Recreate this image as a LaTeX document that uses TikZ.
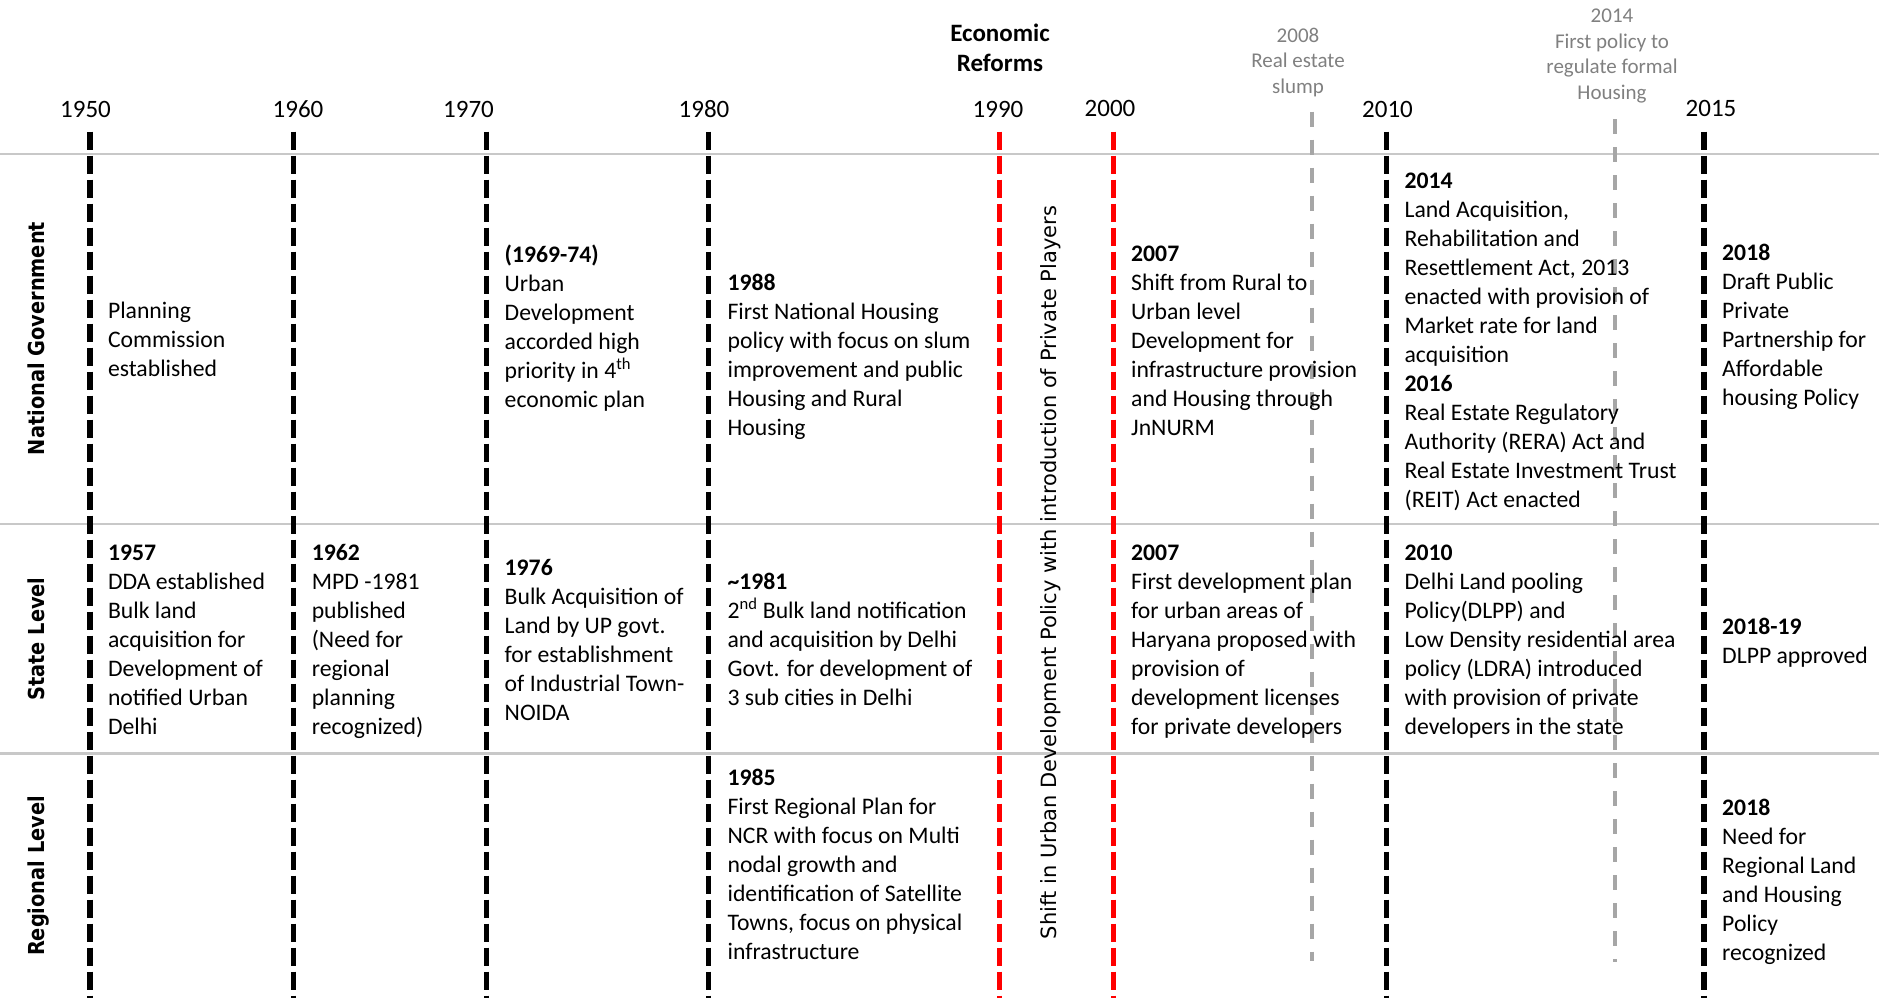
\documentclass[tikz,border=0pt]{standalone}
\usepackage{fontspec}
\usepackage{graphicx}
\setmainfont{Carlito}
\newfontfamily\rowfont{DejaVu Sans}
\definecolor{rulegray}{RGB}{200,200,200}
\definecolor{markgray}{RGB}{166,166,166}
\definecolor{notegray}{RGB}{128,128,128}
\definecolor{reformred}{RGB}{255,0,0}
% fixed height for the first line of every text block
\newcommand\evstrut{\rule{0pt}{20pt}}
\newcommand\notestrut{\rule{0pt}{18pt}}

\begin{document}
\begin{tikzpicture}[x=1pt,y=-1pt,
  sepline/.style={draw=rulegray,line width=2.5pt},
  decade/.style={draw=black,line width=5.5pt,dash pattern=on 18pt off 6pt},
  reform/.style={draw=reformred,line width=5.5pt,dash pattern=on 18pt off 6pt},
  marker/.style={draw=markgray,line width=4pt,dash pattern=on 15pt off 13pt},
  yearlabel/.style={anchor=base,inner sep=0pt,font=\fontsize{25}{30}\selectfont},
  reformlabel/.style={anchor=north,inner sep=0pt,align=center,font=\bfseries\fontsize{25}{30}\selectfont},
  notelabel/.style={anchor=north,inner sep=0pt,align=center,text=notegray,font=\fontsize{21}{25.5}\selectfont},
  event/.style={anchor=north west,inner sep=0pt,align=left,font=\fontsize{23.7}{29}\selectfont},
  rowlabel/.style={rotate=90,anchor=base,inner sep=0pt,font=\rowfont\bfseries\fontsize{22}{26}\selectfont},
  shiftlabel/.style={rotate=90,anchor=base,inner sep=0pt,font=\rowfont\fontsize{21}{25}\selectfont}]
\useasboundingbox (0,0) rectangle (1879,998);

% row separators
\foreach \n/\y in {top/154,mid/524,low/753.5}{
  \coordinate (\n W) at (0,\y);
  \coordinate (\n E) at (1879,\y);
  \draw[sepline] (\n W) -- (\n E);
}

% decade markers
\foreach \n/\x in {1950/90,1960/293.5,1970/486.5,1980/708.5,2010/1386.5,2015/1704}{
  \coordinate (t\n) at (\x,131.7);
  \coordinate (b\n) at (\x,998);
  \draw[decade] (t\n) -- (b\n);
}
% reform period
\foreach \n/\x in {1990/999.7,2000/1113.5}{
  \coordinate (t\n) at (\x,131.7);
  \coordinate (b\n) at (\x,998);
  \draw[reform] (t\n) -- (b\n);
}
% milestone markers
\coordinate (t2008) at (1312,111.7);
\coordinate (b2008) at (1312,961);
\coordinate (t2014) at (1615,119);
\coordinate (b2014) at (1615,962);
\draw[marker] (t2008) -- (b2008);
\draw[marker] (t2014) -- (b2014);

% year labels
\node[yearlabel] (y1950) at (85.5,117.3) {1950};
\node[yearlabel] (y1960) at (298,117.3) {1960};
\node[yearlabel] (y1970) at (468.5,117.3) {1970};
\node[yearlabel] (y1980) at (704,117.3) {1980};
\node[yearlabel] (y1990) at (998,117.3) {1990};
\node[yearlabel] (y2000) at (1110,116) {2000};
\node[yearlabel] (y2010) at (1387.5,117.3) {2010};
\node[yearlabel] (y2015) at (1711,116) {2015};

\node[reformlabel] (reforms) at (1000,21) {\evstrut Economic\\Reforms};
\node[notelabel] (slump) at (1298,24) {\notestrut 2008\\Real estate\\slump};
\node[notelabel] (regul) at (1612,4.5) {\notestrut 2014\\First policy to\\regulate formal\\Housing};

% row titles
\node[rowlabel] (rowNat) at (44.5,338.5) {\scalebox{0.88}[1]{National Government}};
\node[rowlabel] (rowState) at (44.5,639) {\scalebox{0.88}[1]{State Level}};
\node[rowlabel] (rowReg) at (44.5,876) {\scalebox{0.88}[1]{Regional Level}};

\node[shiftlabel] (shift) at (1056.5,572.5) {Shift in Urban Development Policy with introduction of Private Players};

% national government
\node[event] (n1950) at (107.8,298.5) {\evstrut Planning\\Commission\\established};
\node[event] (n1969) at (504.5,242) {\evstrut\textbf{(1969-74)}\\Urban\\Development\\accorded high\\priority in 4\textsuperscript{th}\\economic plan};
\node[event] (n1988) at (727.4,270.5) {\evstrut\textbf{1988}\\First National Housing\\policy with focus on slum\\improvement and public\\Housing and Rural\\Housing};
\node[event] (n2007) at (1131,241.5) {\evstrut\textbf{2007}\\Shift from Rural to\\Urban level\\Development for\\infrastructure provision\\and Housing through\\JnNURM};
\node[event] (n2014) at (1404.4,168) {\evstrut\textbf{2014}\\Land Acquisition,\\Rehabilitation and\\Resettlement Act, 2013\\enacted with provision of\\Market rate for land\\acquisition\\\textbf{2016}\\Real Estate Regulatory\\Authority (RERA) Act and\\Real Estate Investment Trust\\(REIT) Act enacted};
\node[event] (n2018) at (1722,240) {\evstrut\textbf{2018}\\Draft Public\\Private\\Partnership for\\Affordable\\housing Policy};

% state level
\node[event] (s1957) at (107.8,540.5) {\evstrut\textbf{1957}\\DDA established\\Bulk land\\acquisition for\\Development of\\notified Urban\\Delhi};
\node[event] (s1962) at (311.6,540.5) {\evstrut\textbf{1962}\\MPD -1981\\published\\(Need for\\regional\\planning\\recognized)};
\node[event] (s1976) at (504.5,555.5) {\evstrut\textbf{1976}\\Bulk Acquisition of\\Land by UP govt.\\for establishment\\of Industrial Town-\\NOIDA};
\node[event] (s1981) at (727.4,569.5) {\evstrut\textbf{\textasciitilde 1981}\\2\textsuperscript{nd} Bulk land notification\\and acquisition by Delhi\\Govt. for development of\\3 sub cities in Delhi};
\node[event] (s2007) at (1131,540.5) {\evstrut\textbf{2007}\\First development plan\\for urban areas of\\Haryana proposed with\\provision of\\development licenses\\for private developers};
\node[event] (s2010) at (1404.4,540.5) {\evstrut\textbf{2010}\\Delhi Land pooling\\Policy(DLPP) and\\Low Density residential area\\policy (LDRA) introduced\\with provision of private\\developers in the state};
\node[event] (s2018) at (1722,614) {\evstrut\textbf{2018-19}\\DLPP approved};

% regional level
\node[event] (r1985) at (727.4,765) {\evstrut\textbf{1985}\\First Regional Plan for\\NCR with focus on Multi\\nodal growth and\\identification of Satellite\\Towns, focus on physical\\infrastructure};
\node[event] (r2018) at (1722,795) {\evstrut\textbf{2018}\\Need for\\Regional Land\\and Housing\\Policy\\recognized};
\end{tikzpicture}
\end{document}
